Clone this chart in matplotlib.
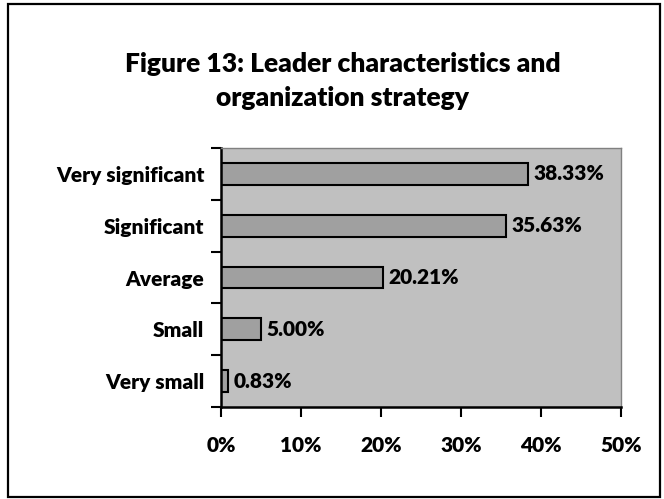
import numpy as np
import matplotlib.pyplot as plt
from matplotlib.patches import Rectangle

categories = ['Very small', 'Small', 'Average', 'Significant', 'Very significant']
values = [0.83, 5.00, 20.21, 35.63, 38.33]
xticks = [0, 10, 20, 30, 40, 50]
title = 'Figure 13: Leader characteristics and\norganization strategy'

plt.rcParams['font.family'] = ['Lato', 'DejaVu Sans']
plt.rcParams['font.weight'] = 'heavy'

W, H = 664, 499
FS = 15
fig = plt.figure(figsize=(W/100, H/100), dpi=100)
fig.patch.set_facecolor('white')

# outer chart border
fig.patches.append(Rectangle((8/W, 2/H), 652/W, 493/H, transform=fig.transFigure,
                             fill=False, edgecolor='black', linewidth=1.6))

ax = fig.add_axes([221/W, 1-407/H, 400/W, 259/H])
ax.set_facecolor('#c0c0c0')

y = np.arange(len(categories))
ax.barh(y, values, height=0.42, color='#a0a0a0', edgecolor='black', linewidth=1.5)
for yi, v in zip(y, values):
    ax.text(v + 0.7, yi, '%.2f%%' % v, va='center', ha='left', fontsize=FS, fontweight='heavy')

ax.set_xlim(0, 50)
ax.set_ylim(-0.5, len(categories) - 0.5)
ax.set_xticks(xticks)
ax.set_xticklabels(['%d%%' % t for t in xticks], fontsize=FS, fontweight='heavy')
ax.set_yticks(y)
ax.set_yticklabels(categories, fontsize=FS, fontweight='heavy')
ax.tick_params(axis='y', length=0, pad=12)
ax.tick_params(axis='x', length=7, width=1.5, pad=14, direction='out')
# y ticks at category boundaries
ax.set_yticks(np.arange(-0.5, len(categories), 1.0), minor=True)
ax.tick_params(axis='y', which='minor', length=7, width=1.5, direction='out')

for s in ['top', 'right']:
    ax.spines[s].set_color('#808080')
    ax.spines[s].set_linewidth(1.0)
for s in ['left', 'bottom']:
    ax.spines[s].set_color('black')
    ax.spines[s].set_linewidth(1.8)

fig.text(343/W, 1-81/H, title, ha='center', va='center', fontsize=19, fontweight='heavy',
         linespacing=1.45)

plt.savefig('out.png', dpi=100)
